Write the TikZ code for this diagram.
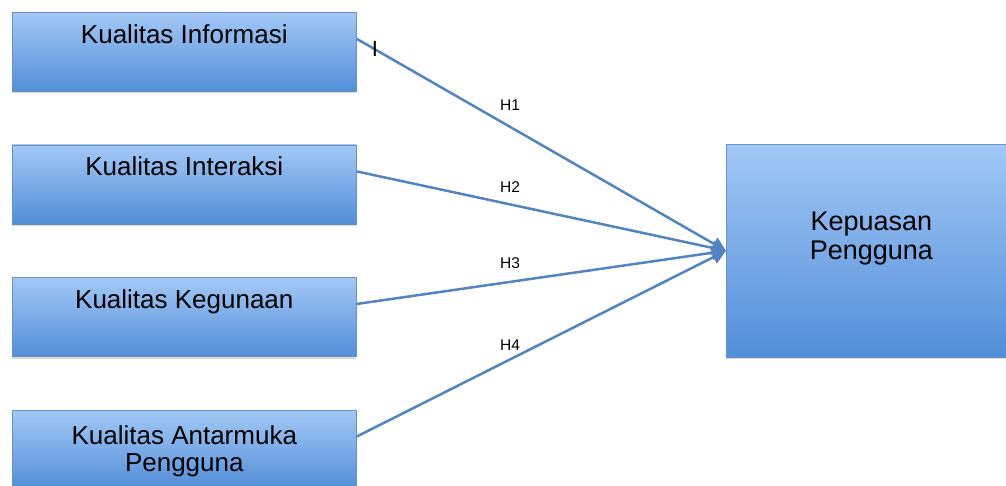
\documentclass[tikz,border=0pt]{standalone}
\usepackage{fontspec}
\setmainfont{Liberation Sans}
\usetikzlibrary{arrows.meta,positioning,shadows}

\definecolor{boxtop}{RGB}{163,200,246}
\definecolor{boxbot}{RGB}{82,142,216}
\definecolor{boxline}{RGB}{104,146,196}
\definecolor{arrowblue}{RGB}{82,132,194}

\begin{document}
\begin{tikzpicture}[x=1pt,y=-1pt,
	varbox/.style={draw=boxline,line width=0.6pt,top color=boxtop,bottom color=boxbot,
		minimum width=344pt,minimum height=79pt,inner sep=0pt,
		drop shadow={shadow xshift=0pt,shadow yshift=-2pt,opacity=0.3}},
	boxtext/.style={font=\fontsize{26}{28}\selectfont,anchor=north,yshift=-9pt},
	hyp/.style={-{Triangle[length=14pt,width=14pt]},draw=arrowblue,line width=2.5pt},
	hlabel/.style={font=\fontsize{15.5}{18}\selectfont},
	node distance=53pt]
	\useasboundingbox (0,0) rectangle (1006,486);
	\node[varbox,anchor=north west,label={[name=t1,boxtext]north:Kualitas Informasi}] (b1) at (12,12) {};
	\node[varbox,label={[name=t2,boxtext]north:Kualitas Interaksi}] (b2) [below =of b1] {};
	\node[varbox,label={[name=t3,boxtext]north:Kualitas Kegunaan}] (b3) [below =of b2] {};
	\node[varbox,label={[name=t4,boxtext,align=center,font=\fontsize{26}{27}\selectfont,yshift=-3pt]north:Kualitas Antarmuka\\Pengguna}] (b4) [below =of b3] {};
	\node[varbox,anchor=north west,minimum width=290pt,minimum height=213pt,
		label={[name=kptext,align=center,font=\fontsize{27}{29}\selectfont,yshift=12pt]center:Kepuasan\\Pengguna}] (kp) at (726,144) {};
	% hypotheses
	\draw[hyp] ([yshift=13pt]b1.east) -- (kp.west);
	\draw[hyp] ([yshift=13pt]b2.east) -- (kp.west);
	\draw[hyp] ([yshift=13pt]b3.east) -- (kp.west);
	\draw[hyp] ([yshift=13pt]b4.east) -- (kp.west);
	\node[hlabel] (h1) at (510,105) {H1};
	\node[hlabel] (h2) at (510,187) {H2};
	\node[hlabel] (h3) at (510,263) {H3};
	\node[hlabel] (h4) at (510,345) {H4};
	\node[font=\fontsize{22}{22}\selectfont,inner sep=0pt] (cursor) at (375,49) {I};
\end{tikzpicture}
\end{document}
